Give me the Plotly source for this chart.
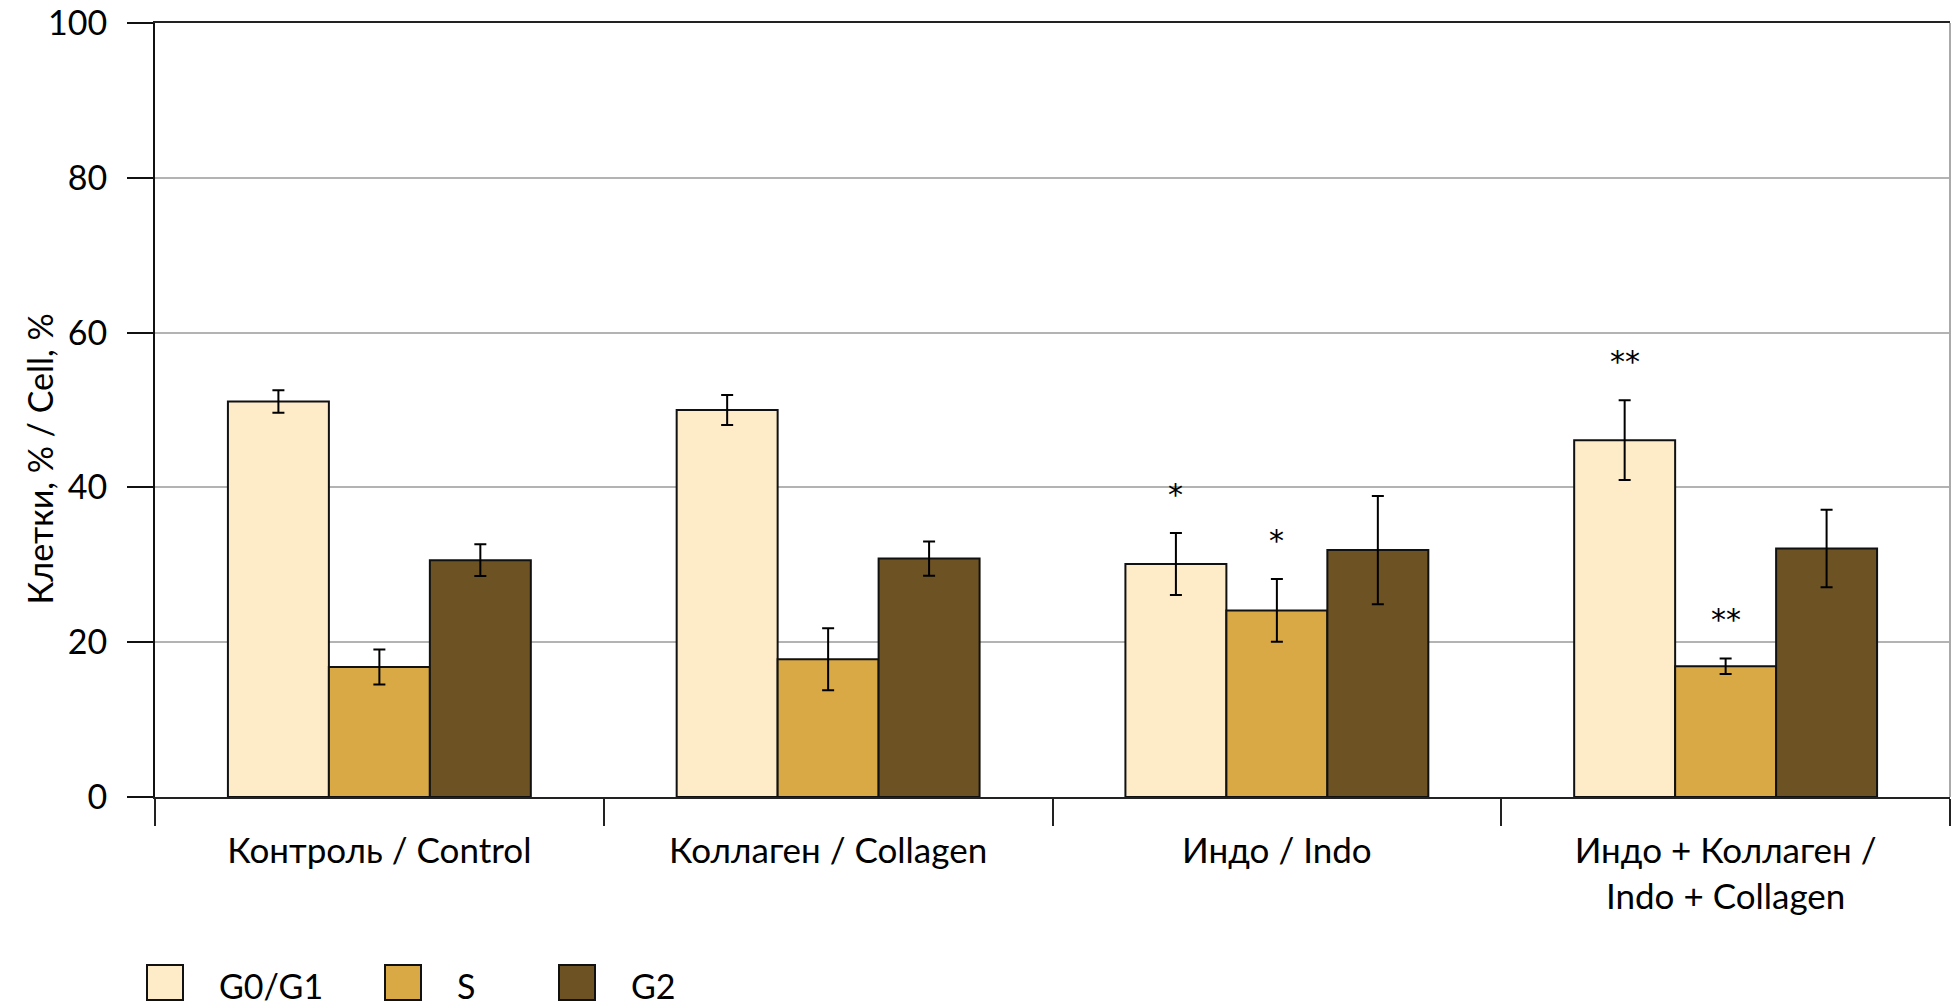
import plotly.graph_objects as go

categories = ["Контроль / Control", "Коллаген / Collagen", "Индо / Indo",
              "Индо + Коллаген /<br>Indo + Collagen"]
series_names = ["G0/G1", "S", "G2"]
g0g1 = [51.1, 50.0, 30.1, 46.1]
g0g1_err = [1.45, 1.95, 4.0, 5.15]
s_phase = [16.8, 17.8, 24.1, 16.9]
s_err = [2.25, 4.0, 4.05, 1.0]
g2 = [30.6, 30.8, 31.9, 32.1]
g2_err = [2.05, 2.2, 7.0, 5.0]
# significance marks: (series index, category index, label)
stars = [(0, 2, "*"), (1, 2, "*"), (0, 3, "**"), (1, 3, "**")]

colors = ["#FEEBC7", "#D9A946", "#6D5224"]
values = [g0g1, s_phase, g2]
errors = [g0g1_err, s_err, g2_err]

W, H = 1954, 1007
PLOT_L, PLOT_R, PLOT_T, PLOT_B = 155, 1950, 23, 797   # page pixels
ML, MT = PLOT_L, PLOT_T
MR, MB = W - PLOT_R, H - PLOT_B
PW, PH = PLOT_R - PLOT_L, PLOT_B - PLOT_T
FONT = "Lato"

def px_x(px):
    return (px - PLOT_L) / PW

def px_y(py):
    return (PLOT_B - py) / PH

fig = go.Figure()
for name, vals, errs, col in zip(series_names, values, errors, colors):
    fig.add_trace(go.Bar(
        x=categories, y=vals, name=name,
        marker=dict(color=col, line=dict(color="#111111", width=2)),
        error_y=dict(type="data", array=errs, color="#000000", thickness=2, width=6),
        showlegend=False,
    ))

bargap = 0.325
bw = (1 - bargap) / 3
for si, ci, lab in stars:
    yv = values[si][ci] + errors[si][ci]
    fig.add_annotation(x=ci + (si - 1) * bw, y=yv, xref="x", yref="y",
                       text=lab, showarrow=False, yanchor="middle", yshift=39,
                       font=dict(family="DejaVu Sans", size=30, color="#000000"))

# y-axis title
fig.add_annotation(x=px_x(16), y=px_y(459), xref="paper", yref="paper",
                   text="Клетки, % / Cell, %", textangle=-90, showarrow=False,
                   font=dict(family=FONT, size=34, color="#000000"))

# custom legend
leg_box_x = [147, 385, 559]
leg_text_x = [217, 455, 629]
for name, col, bx, tx in zip(series_names, colors, leg_box_x, leg_text_x):
    fig.add_shape(type="rect", xref="paper", yref="paper",
                  x0=px_x(bx), x1=px_x(bx + 36), y0=px_y(965), y1=px_y(1000),
                  fillcolor=col, line=dict(color="#111111", width=2))
    fig.add_annotation(x=px_x(tx), y=px_y(985), xref="paper", yref="paper",
                       text=name, showarrow=False, xanchor="left", yanchor="middle",
                       font=dict(family=FONT, size=34, color="#000000"))

# right border
fig.add_shape(type="line", xref="paper", yref="paper", x0=1, x1=1, y0=0, y1=1,
              line=dict(color="#AAAAAA", width=2))

fig.update_layout(
    width=W, height=H,
    margin=dict(l=ML, r=MR, t=MT, b=MB, autoexpand=False),
    paper_bgcolor="white", plot_bgcolor="white",
    barmode="group", bargap=bargap, bargroupgap=0,
    font=dict(family=FONT, size=34, color="#000000"),
    xaxis=dict(type="category", tickson="boundaries", ticks="outside", ticklen=27,
               tickwidth=2, tickcolor="#222222", showline=True, linecolor="#222222",
               linewidth=2, mirror=True, showgrid=False, ticklabelstandoff=22,
               automargin=False,
               tickfont=dict(family=FONT, size=35, color="#000000")),
    yaxis=dict(range=[0, 100], tickvals=[0, 20, 40, 60, 80, 100], ticks="outside",
               ticklen=26, tickwidth=2, tickcolor="#111111", showline=True,
               linecolor="#111111", linewidth=2, showgrid=True, gridcolor="#B3B3B3",
               gridwidth=2, zeroline=False, ticklabelstandoff=13,
               ticklabeloverflow="allow", automargin=False,
               tickfont=dict(family=FONT, size=34, color="#000000")),
)

fig.write_html("out.html", config={"displayModeBar": False},
               post_script="document.body.style.margin='0';"
                           "document.body.style.overflow='hidden';")
